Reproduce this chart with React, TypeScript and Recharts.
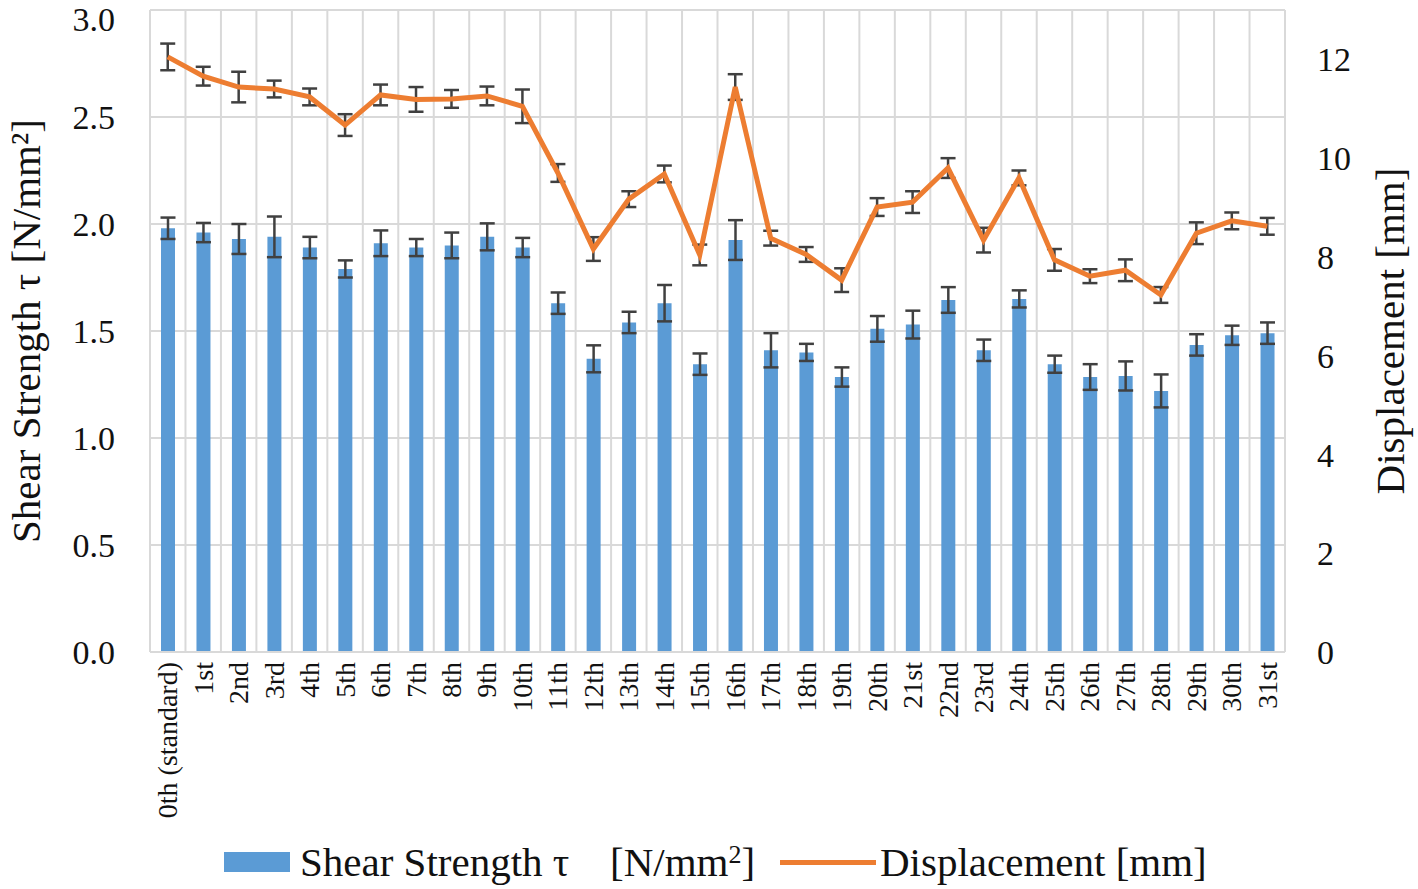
import React from 'react';
import {
  ComposedChart, Bar, Line, XAxis, YAxis, CartesianGrid, ErrorBar,
} from 'recharts';

const categories = [
  '0th (standard)', '1st', '2nd', '3rd', '4th', '5th', '6th', '7th', '8th', '9th', '10th',
  '11th', '12th', '13th', '14th', '15th', '16th', '17th', '18th', '19th', '20th',
  '21st', '22nd', '23rd', '24th', '25th', '26th', '27th', '28th', '29th', '30th', '31st',
];

// shear strength [N/mm2] and its error
const shear = [
  1.98, 1.96, 1.93, 1.94, 1.89, 1.79, 1.91, 1.89, 1.90, 1.94, 1.89,
  1.63, 1.37, 1.54, 1.63, 1.345, 1.925, 1.41, 1.40, 1.285, 1.51,
  1.53, 1.645, 1.41, 1.65, 1.345, 1.285, 1.29, 1.22, 1.435, 1.48, 1.49,
];
const shearErr = [
  0.05, 0.045, 0.07, 0.095, 0.05, 0.04, 0.06, 0.04, 0.06, 0.063, 0.045,
  0.05, 0.063, 0.05, 0.085, 0.05, 0.093, 0.08, 0.04, 0.045, 0.06,
  0.065, 0.06, 0.05, 0.04, 0.04, 0.06, 0.068, 0.077, 0.05, 0.045, 0.05,
];

// displacement [mm] and its error
const disp = [
  12.05, 11.66, 11.44, 11.40, 11.24, 10.67, 11.28, 11.19, 11.20, 11.26, 11.05,
  9.70, 8.16, 9.17, 9.68, 8.04, 11.44, 8.38, 8.05, 7.53, 9.01,
  9.11, 9.80, 8.34, 9.60, 7.94, 7.61, 7.73, 7.23, 8.48, 8.73, 8.62,
];
const dispErr = [
  0.27, 0.19, 0.31, 0.17, 0.17, 0.22, 0.21, 0.25, 0.18, 0.19, 0.34,
  0.18, 0.24, 0.16, 0.17, 0.21, 0.26, 0.15, 0.15, 0.24, 0.18,
  0.22, 0.2, 0.25, 0.15, 0.22, 0.14, 0.22, 0.16, 0.22, 0.17, 0.17,
];

const leftTicks = [0, 0.5, 1, 1.5, 2, 2.5, 3];
const rightTicks = [0, 2, 4, 6, 8, 10, 12];

const FONT = '"Liberation Serif", "Times New Roman", serif';
const BLUE = '#5B9BD5';
const ORANGE = '#ED7D31';
const GRID = '#D9D9D9';

const data = categories.map((name, i) => ({
  name,
  shear: shear[i],
  shearErr: shearErr[i],
  disp: disp[i],
  dispErr: dispErr[i],
}));

const CatTick = ({ x, y, payload }: any) => (
  <text
    x={x}
    y={y}
    transform={`rotate(-90, ${x}, ${y})`}
    textAnchor="end"
    dominantBaseline="central"
    fontFamily={FONT}
    fontSize={28}
    fill="#111"
  >
    {payload.value}
  </text>
);

const AxisTitle = ({ viewBox, text, cx }: any) => {
  const cy = viewBox.y + viewBox.height / 2;
  return (
    <text
      x={cx}
      y={cy}
      transform={`rotate(-90, ${cx}, ${cy})`}
      textAnchor="middle"
      dominantBaseline="central"
      fontFamily={FONT}
      fontSize={41}
      fill="#111"
    >
      {text}
    </text>
  );
};

export default function App() {
  return (
    <div style={{ position: 'absolute', left: 0, top: 0, width: 1418, height: 889, background: '#fff' }}>
      <ComposedChart
        width={1418}
        height={889}
        data={data}
        margin={{ top: 10, right: 0, bottom: 52, left: 0 }}
      >
        <CartesianGrid
          yAxisId="left"
          stroke={GRID}
          strokeWidth={2}
          verticalCoordinatesGenerator={({ offset }: any) =>
            Array.from({ length: categories.length + 1 }, (_, i) => offset.left + (i * offset.width) / categories.length)
          }
        />
        <XAxis
          dataKey="name"
          interval={0}
          height={185}
          tickLine={false}
          axisLine={{ stroke: GRID, strokeWidth: 2 }}
          tickSize={0}
          tickMargin={10}
          tick={<CatTick />}
        />
        <YAxis
          yAxisId="left"
          width={150}
          domain={[0, 3]}
          ticks={leftTicks}
          tickFormatter={(v: number) => v.toFixed(1)}
          axisLine={false}
          tickLine={false}
          tickSize={0}
          tickMargin={35}
          tick={{ fontFamily: FONT, fontSize: 34, fill: '#111' }}
          label={(p: any) => <AxisTitle {...p} cx={26} text="Shear Strength τ [N/mm²]" />}
        />
        <YAxis
          yAxisId="right"
          orientation="right"
          width={133}
          domain={[0, 13]}
          ticks={rightTicks}
          axisLine={false}
          tickLine={false}
          tickSize={0}
          tickMargin={32}
          tick={{ fontFamily: FONT, fontSize: 34, fill: '#111', textAnchor: 'start' }}
          label={(p: any) => <AxisTitle {...p} cx={1390} text="Displacement [mm]" />}
        />
        <Bar yAxisId="left" dataKey="shear" fill={BLUE} barSize={14} isAnimationActive={false}>
          <ErrorBar dataKey="shearErr" width={7.5} stroke="#404040" strokeWidth={2.5} direction="y" />
        </Bar>
        <Line
          yAxisId="right"
          dataKey="disp"
          stroke={ORANGE}
          strokeWidth={5}
          dot={false}
          activeDot={false}
          isAnimationActive={false}
        >
          <ErrorBar dataKey="dispErr" width={7.5} stroke="#404040" strokeWidth={2.5} direction="y" />
        </Line>
      </ComposedChart>

      <div style={{ position: 'absolute', left: 0, top: 838, width: 1418, height: 48, fontFamily: FONT, fontSize: 41, color: '#111' }}>
        <div style={{ position: 'absolute', left: 224, top: 14, width: 66, height: 20, background: BLUE }} />
        <span style={{ position: 'absolute', left: 300, top: 0, lineHeight: '48px', whiteSpace: 'pre' }}>
          Shear Strength τ
        </span>
        <span style={{ position: 'absolute', left: 610, top: 0, lineHeight: '48px', whiteSpace: 'pre' }}>
          [N/mm<sup style={{ fontSize: 26, verticalAlign: 'top', lineHeight: '34px' }}>2</sup>]
        </span>
        <div style={{ position: 'absolute', left: 780, top: 22, width: 96, height: 5, background: ORANGE }} />
        <span style={{ position: 'absolute', left: 880, top: 0, lineHeight: '48px', whiteSpace: 'pre' }}>
          Displacement [mm]
        </span>
      </div>
    </div>
  );
}
